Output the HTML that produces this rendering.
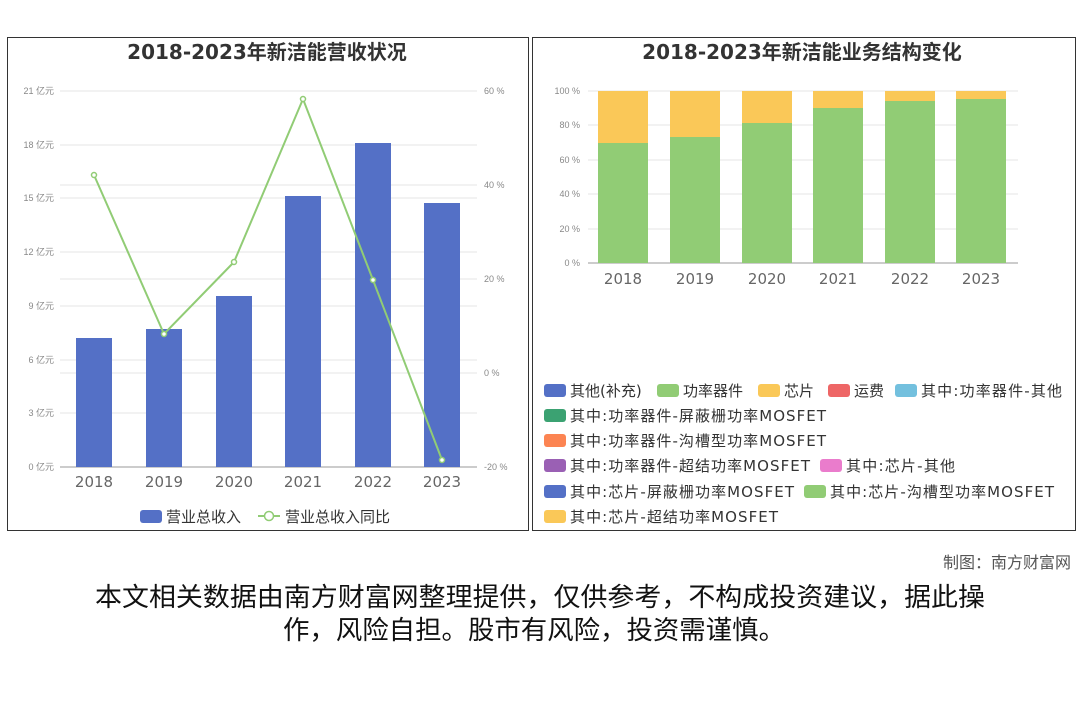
<!DOCTYPE html><html><head><meta charset="utf-8"><style>
body{margin:0;width:1080px;height:720px;background:#fff;font-family:"Liberation Sans","Noto Sans CJK SC",sans-serif;position:relative;overflow:hidden}
.box{position:absolute;border:1px solid #333;background:#fff}
</style></head><body>
<div class="box" style="left:7px;top:37px;width:520px;height:492px"></div>
<div class="box" style="left:532px;top:37px;width:542px;height:492px"></div>
<svg width="1080" height="720" style="position:absolute;left:0;top:0" font-family="Liberation Sans, Noto Sans CJK SC, sans-serif">
<text x="267" y="59" text-anchor="middle" font-size="20" font-weight="bold" fill="#333" font-family="DejaVu Sans, Noto Sans CJK SC, sans-serif">2018-2023年新洁能营收状况</text>
<text x="802" y="59" text-anchor="middle" font-size="20" font-weight="bold" fill="#333" font-family="DejaVu Sans, Noto Sans CJK SC, sans-serif">2018-2023年新洁能业务结构变化</text>
<g stroke="#e6e6e6" stroke-width="1">
<line x1="60" x2="477" y1="91" y2="91"/><line x1="60" x2="477" y1="145" y2="145"/><line x1="60" x2="477" y1="198" y2="198"/><line x1="60" x2="477" y1="252" y2="252"/><line x1="60" x2="477" y1="306" y2="306"/><line x1="60" x2="477" y1="360" y2="360"/><line x1="60" x2="477" y1="413" y2="413"/>
<line x1="60" x2="477" y1="185" y2="185"/><line x1="60" x2="477" y1="279" y2="279"/><line x1="60" x2="477" y1="373" y2="373"/>
</g>
<line x1="60" x2="477" y1="467" y2="467" stroke="#999"/>
<g font-size="9" fill="#888" text-anchor="end">
<text x="54" y="94">21 亿元</text><text x="54" y="148">18 亿元</text><text x="54" y="201">15 亿元</text><text x="54" y="255">12 亿元</text><text x="54" y="309">9 亿元</text><text x="54" y="363">6 亿元</text><text x="54" y="416">3 亿元</text><text x="54" y="470">0 亿元</text>
</g>
<g font-size="9" fill="#888">
<text x="484" y="94">60 %</text><text x="484" y="188">40 %</text><text x="484" y="282">20 %</text><text x="484" y="376">0 %</text><text x="484" y="470">-20 %</text>
</g>
<g fill="#5470c6">
<rect x="76" y="338" width="36" height="129"/><rect x="146" y="329" width="36" height="138"/><rect x="216" y="296" width="36" height="171"/><rect x="285" y="196" width="36" height="271"/><rect x="355" y="143" width="36" height="324"/><rect x="424" y="203" width="36" height="264"/>
</g>
<polyline points="94,175 164,334 234,262 303,99 373,280 442,460" fill="none" stroke="#91cc75" stroke-width="2"/>
<g fill="#fff" stroke="#91cc75" stroke-width="1.5">
<circle cx="94" cy="175" r="2.5"/><circle cx="164" cy="334" r="2.5"/><circle cx="234" cy="262" r="2.5"/><circle cx="303" cy="99" r="2.5"/><circle cx="373" cy="280" r="2.5"/><circle cx="442" cy="460" r="2.5"/>
</g>
<g font-size="15" fill="#666" text-anchor="middle" font-family="DejaVu Sans, sans-serif">
<text x="94" y="487">2018</text><text x="164" y="487">2019</text><text x="234" y="487">2020</text><text x="303" y="487">2021</text><text x="373" y="487">2022</text><text x="442" y="487">2023</text>
</g>
<g font-family="DejaVu Sans, Noto Sans CJK SC, sans-serif" font-size="15" fill="#333">
<rect x="140" y="510" width="22" height="13" rx="3" fill="#5470c6"/>
<text x="166" y="522">营业总收入</text>
<line x1="258" x2="280" y1="516" y2="516" stroke="#91cc75" stroke-width="2"/><circle cx="269" cy="516" r="4.5" fill="#fff" stroke="#91cc75" stroke-width="1.5"/>
<text x="285" y="522">营业总收入同比</text>
</g>
<g stroke="#e6e6e6">
<line x1="588" x2="1018" y1="91" y2="91"/><line x1="588" x2="1018" y1="125" y2="125"/><line x1="588" x2="1018" y1="160" y2="160"/><line x1="588" x2="1018" y1="194" y2="194"/><line x1="588" x2="1018" y1="229" y2="229"/>
</g>
<line x1="588" x2="1018" y1="263" y2="263" stroke="#999"/>
<g font-size="9" fill="#888" text-anchor="end">
<text x="580" y="94">100 %</text><text x="580" y="128">80 %</text><text x="580" y="163">60 %</text><text x="580" y="197">40 %</text><text x="580" y="232">20 %</text><text x="580" y="266">0 %</text>
</g>
<g fill="#fac858">
<rect x="598" y="91" width="50" height="52"/><rect x="670" y="91" width="50" height="46"/><rect x="742" y="91" width="50" height="32"/><rect x="813" y="91" width="50" height="17"/><rect x="885" y="91" width="50" height="10"/><rect x="956" y="91" width="50" height="8"/>
</g>
<g fill="#91cc75">
<rect x="598" y="143" width="50" height="120"/><rect x="670" y="137" width="50" height="126"/><rect x="742" y="123" width="50" height="140"/><rect x="813" y="108" width="50" height="155"/><rect x="885" y="101" width="50" height="162"/><rect x="956" y="99" width="50" height="164"/>
</g>
<g font-size="15" fill="#666" text-anchor="middle" font-family="DejaVu Sans, sans-serif">
<text x="623" y="284">2018</text><text x="695" y="284">2019</text><text x="767" y="284">2020</text><text x="838" y="284">2021</text><text x="910" y="284">2022</text><text x="981" y="284">2023</text>
</g>
<g font-size="15" fill="#333" font-family="DejaVu Sans, Noto Sans CJK SC, sans-serif">
<rect x="544" y="384" width="22" height="13" rx="3" fill="#5470c6"/><text x="570" y="396">其他(补充)</text>
<rect x="657" y="384" width="22" height="13" rx="3" fill="#91cc75"/><text x="683" y="396">功率器件</text>
<rect x="758" y="384" width="22" height="13" rx="3" fill="#fac858"/><text x="784" y="396">芯片</text>
<rect x="828" y="384" width="22" height="13" rx="3" fill="#ee6666"/><text x="854" y="396">运费</text>
<rect x="895" y="384" width="22" height="13" rx="3" fill="#73c0de"/><text x="921" y="396" textLength="141">其中:功率器件-其他</text>
<rect x="544" y="409" width="22" height="13" rx="3" fill="#3ba272"/><text x="570" y="421" textLength="256">其中:功率器件-屏蔽栅功率MOSFET</text>
<rect x="544" y="434" width="22" height="13" rx="3" fill="#fc8452"/><text x="570" y="446" textLength="256">其中:功率器件-沟槽型功率MOSFET</text>
<rect x="544" y="459" width="22" height="13" rx="3" fill="#9a60b4"/><text x="570" y="471" textLength="240">其中:功率器件-超结功率MOSFET</text>
<rect x="820" y="459" width="22" height="13" rx="3" fill="#ea7ccc"/><text x="846" y="471" textLength="109">其中:芯片-其他</text>
<rect x="544" y="485" width="22" height="13" rx="3" fill="#5470c6"/><text x="570" y="497" textLength="224">其中:芯片-屏蔽栅功率MOSFET</text>
<rect x="804" y="485" width="22" height="13" rx="3" fill="#91cc75"/><text x="830" y="497" textLength="224">其中:芯片-沟槽型功率MOSFET</text>
<rect x="544" y="510" width="22" height="13" rx="3" fill="#fac858"/><text x="570" y="522" textLength="208">其中:芯片-超结功率MOSFET</text>
</g>
<text x="1071" y="568" text-anchor="end" font-size="16" fill="#555">制图：南方财富网</text>
<text x="95" y="606" font-size="26" fill="#111" textLength="890" lengthAdjust="spacingAndGlyphs">本文相关数据由南方财富网整理提供，仅供参考，不构成投资建议，据此操</text>
<text x="283" y="639" font-size="26" fill="#111" textLength="502" lengthAdjust="spacingAndGlyphs">作，风险自担。股市有风险，投资需谨慎。</text>
</svg>
</body></html>
